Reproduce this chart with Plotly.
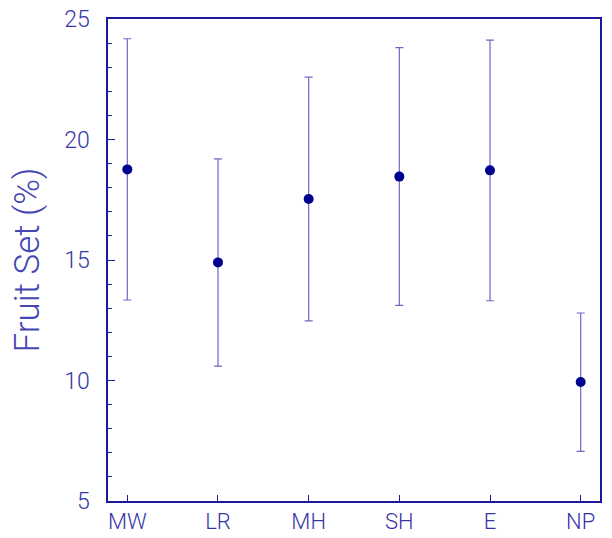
import plotly.graph_objects as go

categories = ["MW", "LR", "MH", "SH", "E", "NP"]
means = [18.76, 14.90, 17.53, 18.46, 18.72, 9.94]
upper = [24.18, 19.20, 22.59, 23.81, 24.12, 12.80]
lower = [13.34, 10.60, 12.47, 13.12, 13.31, 7.06]

err_plus = [u - m for u, m in zip(upper, means)]
err_minus = [m - l for m, l in zip(means, lower)]

navy = "#000090"
axis_col = "#1a1a9a"
text_col = "#3535a8"

fig = go.Figure()
fig.add_trace(go.Scatter(
    x=categories, y=means, mode="markers",
    marker=dict(size=10, color=navy),
    error_y=dict(type="data", symmetric=False, array=err_plus, arrayminus=err_minus,
                 color="#6a6ac4", thickness=1.2, width=4),
    showlegend=False,
))

fig.update_layout(
    width=612, height=538,
    margin=dict(l=108, r=12, t=19, b=37),
    paper_bgcolor="white", plot_bgcolor="white",
    font=dict(family="Roboto", weight=300, color=text_col),
)
fig.update_xaxes(
    type="category", range=[-0.213, 5.213], automargin=False,
    showline=True, linecolor=axis_col, linewidth=1.5, mirror=True,
    ticks="inside", ticklen=6, tickcolor=axis_col, tickwidth=1,
    showgrid=False, zeroline=False,
    tickfont=dict(size=22, color=text_col),
    ticklabelstandoff=0,
)
fig.update_yaxes(
    range=[5, 25], tickvals=[5, 10, 15, 20, 25], automargin=False,
    showline=True, linecolor=axis_col, linewidth=1.5, mirror=True,
    ticks="inside", ticklen=7, tickcolor=axis_col, tickwidth=1,
    minor=dict(dtick=1, ticks="inside", ticklen=4, tickcolor=axis_col, tickwidth=1, showgrid=False),
    showgrid=False, zeroline=False,
    tickfont=dict(size=23, color=text_col),
    ticklabelstandoff=12,
    title=dict(text="Fruit Set (%)", font=dict(size=35, color="#4545b5"), standoff=14),
)

fig.write_html("out.html")
